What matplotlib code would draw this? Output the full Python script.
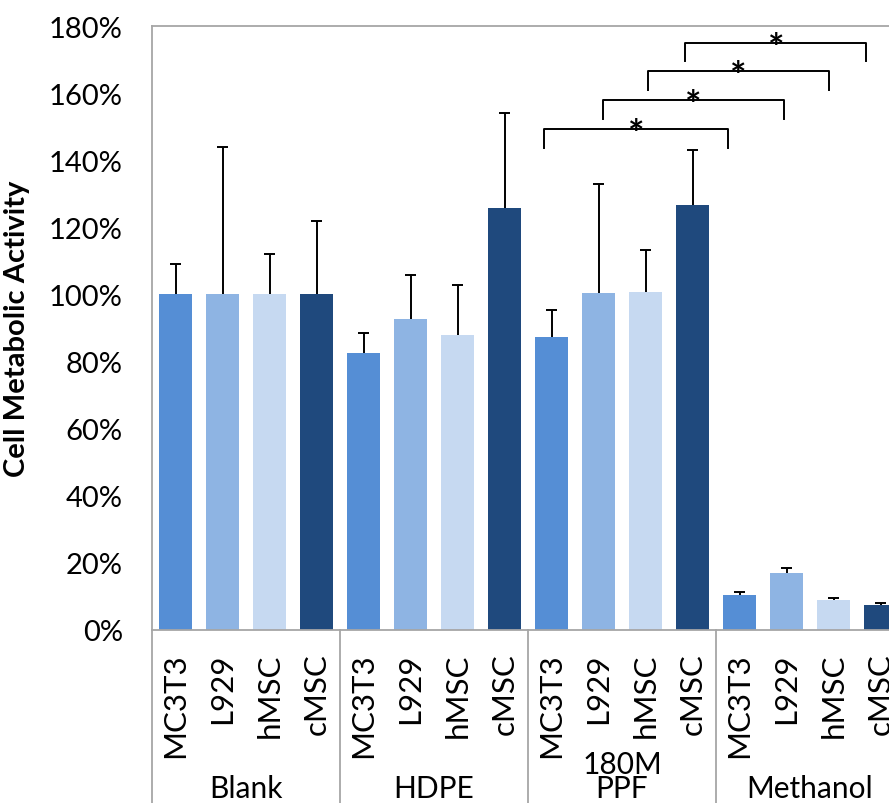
import matplotlib
matplotlib.use("Agg")
import matplotlib.pyplot as plt
import matplotlib.transforms as mtransforms
import numpy as np

plt.rcParams['font.family'] = ['Lato', 'DejaVu Sans']

groups = ['Blank', 'HDPE', '180M\nPPF', 'Methanol']
cells = ['MC3T3', 'L929', 'hMSC', 'cMSC']
colors = ['#558ED5', '#8EB4E3', '#C6D9F1', '#1F497D']

# mean metabolic activity (%) per group, one value per cell line
means = {
    'MC3T3': [100, 82.4, 87.2, 10.3],
    'L929':  [100, 92.8, 100.3, 17.1],
    'hMSC':  [100, 87.8, 100.6, 9.0],
    'cMSC':  [100, 125.7, 126.6, 7.4],
}
errors = {
    'MC3T3': [9, 6, 8.3, 1.1],
    'L929':  [44, 13, 32.5, 1.4],
    'hMSC':  [12, 15, 12.5, 0.6],
    'cMSC':  [22, 28.3, 16.4, 0.7],
}

# significance brackets: (x start, x end, bracket top %, leg bottom %)
brackets = [
    (7.85, 11.75, 149.3, 143.6),
    (9.10, 12.95, 157.9, 152.2),
    (10.05, 13.90, 166.6, 160.9),
    (10.85, 14.70, 174.9, 169.6),
]

fig = plt.figure(figsize=(8.89, 8.04), dpi=100)
ax = fig.add_axes([0.171, 0.2152, 0.8459, 0.7512])

n_cells = len(cells)
for ci, cell in enumerate(cells):
    xs = np.arange(len(groups)) * n_cells + ci
    m = np.array(means[cell])
    e = np.array(errors[cell])
    ax.bar(xs, m, width=0.71, color=colors[ci], zorder=2)
    # upper error bars only
    ax.vlines(xs, m, m + e, color='black', lw=1.4, zorder=3)
    ax.hlines(m + e, xs - 0.12, xs + 0.12, color='black', lw=1.4, zorder=3)

ax.set_xlim(-0.5, len(groups) * n_cells - 0.5)
ax.set_ylim(0, 180)
ax.set_yticks(np.arange(0, 181, 20))
ax.set_yticklabels([f'{v}%' for v in range(0, 181, 20)], fontsize=21)
ax.tick_params(axis='y', length=0, pad=21)

all_x = np.arange(len(groups) * n_cells)
ax.set_xticks(all_x)
ax.set_xticklabels(cells * len(groups), rotation=90, fontsize=22.5)
ax.tick_params(axis='x', length=0, pad=16)

for s in ax.spines.values():
    s.set_color('#A6A6A6')
    s.set_linewidth(1.3)

ax.set_ylabel('Cell Metabolic Activity', fontsize=21, fontweight='bold')
ax.yaxis.set_label_coords(-0.162, 0.5)

# group separators below the axis
trans = mtransforms.blended_transform_factory(ax.transData, ax.transAxes)
for g in range(len(groups) + 1):
    xb = g * n_cells - 0.5
    ax.plot([xb, xb], [0, -0.3], transform=trans, color='#A6A6A6',
            lw=1.3, clip_on=False)
for g, name in enumerate(groups):
    xc = g * n_cells + (n_cells - 1) / 2
    ax.text(xc, -0.284, name, transform=trans, ha='center', va='bottom',
            fontsize=21.5, linespacing=0.8)

# significance brackets
for x0, x1, ytop, ybot in brackets:
    ax.plot([x0, x0, x1, x1], [ybot, ytop, ytop, ybot], color='black',
            lw=1.4, clip_on=False, zorder=4)
    ax.text((x0 + x1) / 2, ytop - 5.0, '*', ha='center', va='baseline',
            fontsize=28, fontweight='bold', clip_on=False)

fig.savefig('out.png', dpi=100)
